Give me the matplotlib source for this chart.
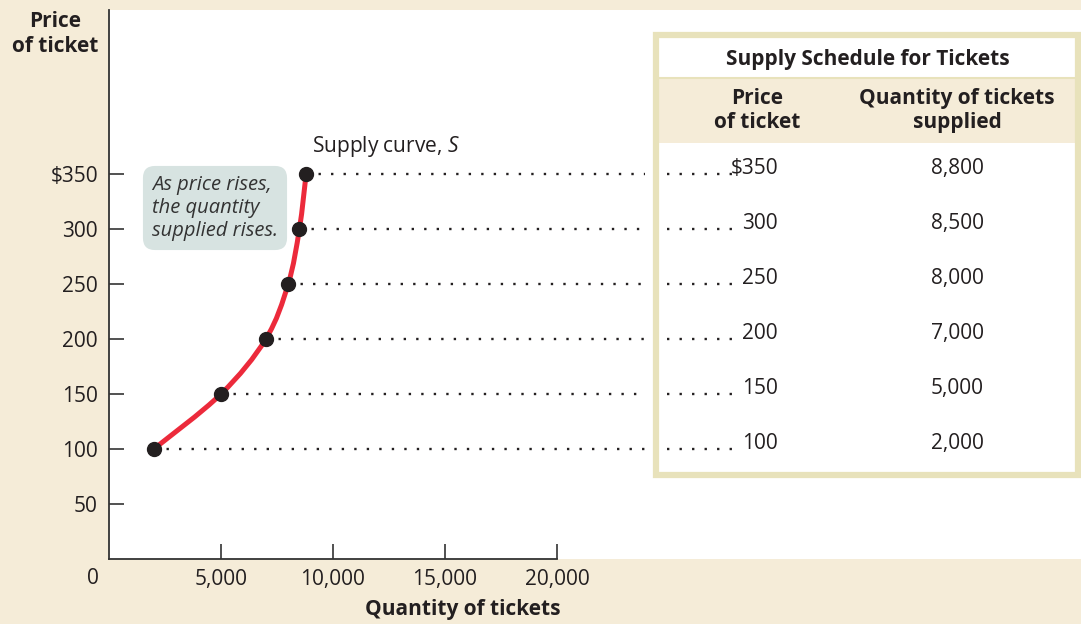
import matplotlib
matplotlib.use("Agg")
import matplotlib.pyplot as plt
from matplotlib.path import Path
from matplotlib.patches import PathPatch, Rectangle
import matplotlib.transforms as mtransforms

# supply schedule
prices = [100, 150, 200, 250, 300, 350]
quantities = [2000, 5000, 7000, 8000, 8500, 8800]
price_labels = ["100", "150", "200", "250", "300", "$350"]
qty_labels = ["2,000", "5,000", "7,000", "8,000", "8,500", "8,800"]
yticks = [50, 100, 150, 200, 250, 300, 350]
ytick_labels = ["50", "100", "150", "200", "250", "300", "$350"]
xticks = [5000, 10000, 15000, 20000]
xtick_labels = ["5,000", "10,000", "15,000", "20,000"]

BG = "#f5ecd8"
BORDER = "#e8e2bb"
RED = "#ec2a3b"
INK = "#231f20"
NOTE = "#d7e3e1"

plt.rcParams["font.family"] = ["Open Sans", "DejaVu Sans"]
plt.rcParams["mathtext.fontset"] = "custom"
plt.rcParams["mathtext.it"] = "Open Sans:italic"
plt.rcParams["mathtext.rm"] = "Open Sans"

W, H = 1081, 624
fig = plt.figure(figsize=(W / 100, H / 100), dpi=100, facecolor=BG)


def fx(px):
    return px / W


def fy(py):
    return 1 - py / H


# axes: left spine at x=109px, x-axis at y=559px, white up to the top/right
ax = fig.add_axes([fx(109), fy(559), 1 - fx(109), fy(10) - fy(559)])
ax.set_facecolor("white")
ax.set_xlim(0, (W - 109) / 112 * 5000)
ax.set_ylim(0, (559 - 10) / 1.1)

for s in ["top", "right"]:
    ax.spines[s].set_visible(False)
ax.spines["left"].set_color("#333333")
ax.spines["bottom"].set_color("#333333")
ax.spines["left"].set_linewidth(1.3)
ax.spines["bottom"].set_linewidth(1.3)
ax.spines["bottom"].set_bounds(0, 20000)

ax.set_yticks(yticks)
ax.set_yticklabels(ytick_labels)
ax.set_xticks(xticks)
ax.set_xticklabels(xtick_labels)
ax.tick_params(direction="in", length=11, width=1.2, color="#333333",
               labelsize=15, labelcolor=INK)
ax.tick_params(axis="y", pad=8)
ax.tick_params(axis="x", pad=7.5)

# smooth curve through the points (Catmull-Rom -> cubic Bezier)
pts = list(zip(quantities, prices))
verts = [pts[0]]
codes = [Path.MOVETO]
for i in range(len(pts) - 1):
    p0 = pts[i - 1] if i > 0 else pts[i]
    p1 = pts[i]
    p2 = pts[i + 1]
    p3 = pts[i + 2] if i + 2 < len(pts) else pts[i + 1]
    c1 = (p1[0] + (p2[0] - p0[0]) / 6, p1[1] + (p2[1] - p0[1]) / 6)
    c2 = (p2[0] - (p3[0] - p1[0]) / 6, p2[1] - (p3[1] - p1[1]) / 6)
    verts += [c1, c2, p2]
    codes += [Path.CURVE4] * 3
ax.add_patch(PathPatch(Path(verts, codes), fc="none", ec=RED, lw=3.6,
                       capstyle="round", zorder=3))

# dotted guide lines to the table
q_gap_start = (645 - 109) / 112 * 5000
q_gap_end = (667 - 109) / 112 * 5000
q_end = (733 - 109) / 112 * 5000
ax.hlines(prices, quantities, q_gap_start, colors=INK, lw=1.7,
          linestyles=(0, (1, 4.3)), zorder=2)
ax.hlines(prices, q_gap_end, q_end, colors=INK, lw=1.7,
          linestyles=(0, (1, 4.3)), zorder=2)

ax.plot(quantities, prices, "o", color=INK, ms=10, zorder=4, clip_on=False)

ax.annotate("Supply curve, $S$", xy=(quantities[-1], prices[-1]),
            xytext=(4, 20), textcoords="offset points", fontsize=15,
            color=INK, va="center", ha="left")

# annotation box
fig.text(fx(152), fy(208), "As price rises,\nthe quantity\nsupplied rises.",
         fontsize=14.5, style="italic", color="#333333", ha="left",
         va="center", linespacing=1.2,
         bbox=dict(boxstyle="round,pad=0.45,rounding_size=0.6", fc=NOTE,
                   ec="none"))

# axis titles
fig.text(fx(55), fy(34), "Price\nof ticket", fontsize=15, fontweight="bold",
         color=INK, ha="center", va="center", linespacing=1.25)
fig.text(fx(463), fy(609), "Quantity of tickets", fontsize=15,
         fontweight="bold", color=INK, ha="center", va="center")
fig.text(fx(93), fy(578), "0", fontsize=15, color=INK, ha="center",
         va="center")

# table
fig.patches.append(Rectangle((fx(656), fy(143)), fx(1078) - fx(656),
                             fy(77) - fy(143), transform=fig.transFigure,
                             fc=BG, ec="none", zorder=5))
fig.patches.append(Rectangle((fx(656), fy(78)), fx(1078) - fx(656), 0,
                             transform=fig.transFigure, fc="none",
                             ec=BORDER, lw=1.5, zorder=5))
fig.patches.append(Rectangle((fx(656), fy(475)), fx(1078) - fx(656),
                             fy(35) - fy(475), transform=fig.transFigure,
                             fc="none", ec=BORDER, lw=4.5, zorder=6))

fig.text(fx(868), fy(60), "Supply Schedule for Tickets", fontsize=15,
         fontweight="bold", color=INK, ha="center", va="center", zorder=7)
fig.text(fx(757), fy(110.5), "Price\nof ticket", fontsize=15,
         fontweight="bold", color=INK, ha="center", va="center",
         linespacing=1.2, zorder=7)
fig.text(fx(957), fy(110.5), "Quantity of tickets\nsupplied", fontsize=15,
         fontweight="bold", color=INK, ha="center", va="center",
         linespacing=1.2, zorder=7)

row_tf = mtransforms.blended_transform_factory(fig.transFigure, ax.transData)
for p, pl, ql in zip(prices, price_labels, qty_labels):
    fig.text(fx(778), p, pl, transform=row_tf, fontsize=15, color=INK,
             ha="right", va="baseline", zorder=7)
    fig.text(fx(957), p, ql, transform=row_tf, fontsize=15, color=INK,
             ha="center", va="baseline", zorder=7)

fig.savefig("out.png", dpi=100, facecolor=BG)
